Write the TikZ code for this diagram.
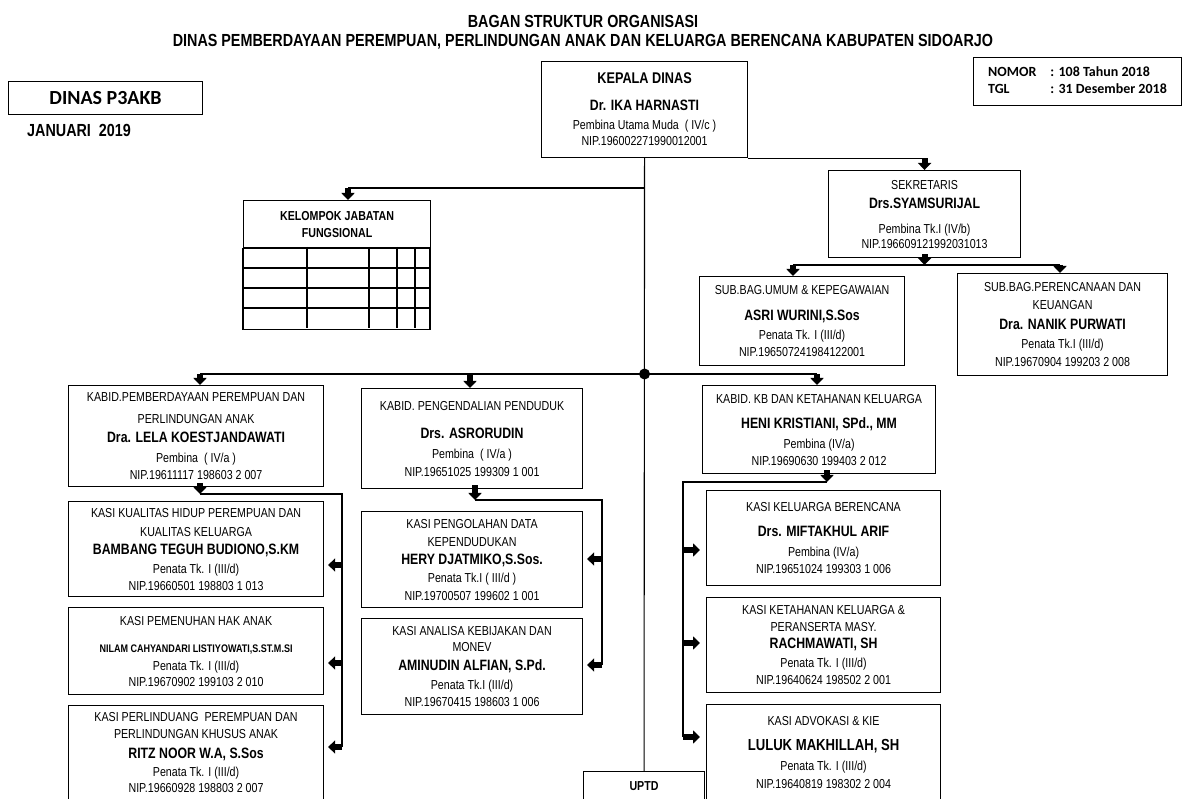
\documentclass[tikz,border=0pt]{standalone}
\usepackage{fontspec}
\setmainfont{Liberation Sans}[FakeStretch=0.82]
\newfontfamily\calfont{Carlito}
\usetikzlibrary{arrows.meta, positioning, calc}

\newcommand{\pname}[1]{{\fontsize{15}{18}\selectfont\bfseries #1}}

\begin{document}
\begin{tikzpicture}[
    x=1pt, y=-1pt,
    node distance=10pt,
    orgbox/.style={draw, line width=1.1pt, anchor=north west, align=center, inner sep=0pt, font=\fontsize{13}{18}\selectfont},
    link/.style={line width=1.1pt},
    fatarrow/.style={line width=6pt, -{Triangle[width=13pt, length=7pt]}},
    heading/.style={font=\fontsize{17.5}{20}\selectfont\bfseries, inner sep=0pt}
]
\useasboundingbox (0,0) rectangle (1184,799);
\fill[white] (0,0) rectangle (1184,799);

% Judul
\node[heading] (judul) at (583,21) {BAGAN STRUKTUR ORGANISASI};
\node[heading] (judul2) at (583,42) {DINAS PEMBERDAYAAN PEREMPUAN, PERLINDUNGAN ANAK DAN KELUARGA BERENCANA KABUPATEN SIDOARJO};

\node[orgbox, minimum width=194pt, minimum height=33pt, font=\calfont\bfseries\fontsize{20}{24}\selectfont] (dinas) at (8,81) {DINAS P3AKB};
\node[anchor=west, inner sep=0pt, font=\bfseries\fontsize{17.5}{20}\selectfont] (bulan) at (27,130) {JANUARI~~2019};

\node[orgbox, minimum width=208pt, minimum height=48pt, font=\calfont\bfseries\fontsize{14}{17}\selectfont] (nomor) at (973,57)
  {\begin{tabular}{@{}l@{\hspace{14pt}}l@{}}NOMOR & : 108 Tahun 2018\\ TGL & : 31 Desember 2018\end{tabular}};

% Pimpinan
\node[orgbox, minimum width=206pt, minimum height=96pt] (kepala) at (541,61)
  {{\bfseries\fontsize{15.5}{18}\selectfont KEPALA DINAS}\\[9pt]
   \pname{Dr. IKA HARNASTI}\\[1pt]
   Pembina Utama Muda~~( IV/c )\\[-2pt]
   NIP.196002271990012001};

\node[orgbox, minimum width=192pt, minimum height=87pt] (sek) at (828,170)
  {SEKRETARIS\\[1pt]
   \pname{Drs.SYAMSURIJAL}\\[7pt]
   Pembina Tk.I (IV/b)\\[-3pt]
   NIP.196609121992031013};

\node[orgbox, minimum width=205pt, minimum height=89pt] (umum) at (699,276)
  {SUB.BAG.UMUM \& KEPEGAWAIAN\\[8pt]
   \pname{ASRI WURINI,S.Sos}\\[1pt]
   Penata Tk. I (III/d)\\[-1pt]
   NIP.196507241984122001};

\node[orgbox, minimum width=210pt, minimum height=102pt] (peren) at (957,273)
  {SUB.BAG.PERENCANAAN DAN\\
   KEUANGAN\\[2pt]
   \pname{Dra. NANIK PURWATI}\\[1pt]
   Penata Tk.I (III/d)\\
   NIP.19670904 199203 2 008};

\node[orgbox, minimum width=187pt, minimum height=47pt, font=\bfseries\fontsize{13}{17}\selectfont] (kelompok) at (243,200)
  {KELOMPOK JABATAN\\FUNGSIONAL};
\draw[link] (kelompok.south west) rectangle ++(187,81);
\foreach \gx in {307,369,397,415} \draw[link] (\gx,247) -- (\gx,328);
\foreach \gy in {268,288,308} \draw[link] (243,\gy) -- (430,\gy);

% Bidang kiri
\node[orgbox, minimum width=255pt, minimum height=101pt] (kabidpp) at (68,385)
  {KABID.PEMBERDAYAAN PEREMPUAN DAN\\[4pt]
   PERLINDUNGAN ANAK\\[1pt]
   \pname{Dra. LELA KOESTJANDAWATI}\\[2pt]
   Pembina~~( IV/a )\\[-1pt]
   NIP.19611117 198603 2 007};
\node[orgbox, minimum width=255pt, minimum height=95pt] (kasikh) at (68,501)
  {KASI KUALITAS HIDUP PEREMPUAN DAN\\[1pt]
   KUALITAS KELUARGA\\
   \pname{BAMBANG TEGUH BUDIONO,S.KM}\\[1pt]
   Penata Tk. I (III/d)\\[-1pt]
   NIP.19660501 198803 1 013};
\node[orgbox, below=of kasikh.south west, anchor=north west, minimum width=255pt, minimum height=87pt] (kasiph)
  {KASI PEMENUHAN HAK ANAK\\[9pt]
   {\bfseries\fontsize{11}{18}\selectfont NILAM CAHYANDARI LISTIYOWATI,S.ST.M.SI}\\
   Penata Tk. I (III/d)\\[-2pt]
   NIP.19670902 199103 2 010};
\node[orgbox, below=of kasiph.south west, anchor=north west, minimum width=255pt, minimum height=94pt] (kasipp)
  {KASI PERLINDUANG~~PEREMPUAN DAN\\[-1pt]
   PERLINDUNGAN KHUSUS ANAK\\[2pt]
   \pname{RITZ NOOR W.A, S.Sos}\\
   Penata Tk. I (III/d)\\[-2pt]
   NIP.19660928 198803 2 007};

% Bidang tengah
\node[orgbox, minimum width=221pt, minimum height=100pt] (kabidpeng) at (361,388)
  {KABID. PENGENDALIAN PENDUDUK\\[10pt]
   \pname{Drs. ASRORUDIN}\\[2pt]
   Pembina~~( IV/a )\\
   NIP.19651025 199309 1 001};
\node[orgbox, minimum width=221pt, minimum height=96pt] (kasipd) at (361,511)
  {KASI PENGOLAHAN DATA\\
   KEPENDUDUKAN\\
   \pname{HERY DJATMIKO,S.Sos.}\\
   Penata Tk.I ( III/d )\\
   NIP.19700507 199602 1 001};
\node[orgbox, below=of kasipd.south west, anchor=north west, minimum width=221pt, minimum height=96pt] (kasiak)
  {KASI ANALISA KEBIJAKAN DAN\\[-2pt]
   MONEV\\[1pt]
   \pname{AMINUDIN ALFIAN, S.Pd.}\\[1pt]
   Penata Tk.I (III/d)\\[-1pt]
   NIP.19670415 198603 1 006};

% Bidang kanan
\node[orgbox, minimum width=233pt, minimum height=88pt] (kabidkb) at (702,385)
  {KABID. KB DAN KETAHANAN KELUARGA\\[7pt]
   \pname{HENI KRISTIANI, SPd., MM}\\[2pt]
   Pembina (IV/a)\\[-1pt]
   NIP.19690630 199403 2 012};
\node[orgbox, minimum width=234pt, minimum height=95pt] (kasikb) at (706,490)
  {KASI KELUARGA BERENCANA\\[7pt]
   \pname{Drs. MIFTAKHUL ARIF}\\[2pt]
   Pembina (IV/a)\\[-1pt]
   NIP.19651024 199303 1 006};
\node[orgbox, below=11pt of kasikb.south west, anchor=north west, minimum width=234pt, minimum height=95pt] (kasikk)
  {KASI KETAHANAN KELUARGA \&\\[-1pt]
   PERANSERTA MASY.\\[-1pt]
   \pname{RACHMAWATI, SH}\\[1pt]
   Penata Tk. I (III/d)\\[-1pt]
   NIP.19640624 198502 2 001};
\node[orgbox, below=11pt of kasikk.south west, anchor=north west, minimum width=234pt, minimum height=95pt] (kasiad)
  {KASI ADVOKASI \& KIE\\[7pt]
   {\fontsize{16}{18}\selectfont\bfseries LULUK MAKHILLAH, SH}\\[2pt]
   Penata Tk. I (III/d)\\
   NIP.19640819 198302 2 004};

\node[orgbox, minimum width=121pt, minimum height=40pt, text height=10pt, text depth=13pt, font=\bfseries\fontsize{13}{16}\selectfont] (uptd) at (583,771) {UPTD};

% Garis komando
\draw[link] (kepala.south) -- (uptd.north);
\node[circle, fill, minimum size=11pt, inner sep=0pt] (hub) at (kepala.south |- 0,374) {};

\coordinate (jsek) at (kepala.south east -| sek.north);
\draw[link] (kepala.south east) -- (jsek);
\draw[fatarrow] (jsek) -- (sek.north);

\coordinate (jkel) at (348,188);
\draw[link] (kepala.south |- jkel) -- (jkel);
\draw[fatarrow] (jkel) -- (jkel |- kelompok.north);

\coordinate (jumum) at (793,265);
\coordinate (jperen) at (1060,265);
\draw[fatarrow, shorten <=-4pt] (sek.south) -- (sek.south |- jumum);
\draw[link] (jumum) -- (jperen);
\draw[fatarrow] (jumum) -- (jumum |- umum.north);
\draw[fatarrow] (jperen) -- (jperen |- peren.north);

\coordinate (jpp) at (200,374);
\coordinate (jpeng) at (470,374);
\coordinate (jkb) at (817,374);
\draw[link] (jpp) -- (jkb);
\draw[fatarrow] (jpp) -- (jpp |- kabidpp.north);
\draw[fatarrow] (jpeng) -- (jpeng |- kabidpeng.north);
\draw[fatarrow] (jkb) -- (jkb |- kabidkb.north);

% Seksi tiap bidang
\coordinate (bpp) at (200,494);
\coordinate (bppr) at (342,494);
\draw[fatarrow, shorten <=-4pt] (bpp |- kabidpp.south) -- (bpp);
\draw[link] (bpp) -- (bppr) -- (bppr |- 0,747);
\foreach \n/\ya in {kasikh/565, kasiph/663, kasipp/747}
  \draw[fatarrow, shorten >=4pt] (bppr |- 0,\ya) -- (\n.east |- 0,\ya);

\coordinate (bpeng) at (475,500);
\coordinate (bpengr) at (602,500);
\draw[fatarrow, shorten <=-4pt] (bpeng |- kabidpeng.south) -- (bpeng);
\draw[link] (bpeng) -- (bpengr) -- (bpengr |- 0,665);
\foreach \n/\ya in {kasipd/559, kasiak/665}
  \draw[fatarrow, shorten >=4pt] (bpengr |- 0,\ya) -- (\n.east |- 0,\ya);

\coordinate (bkb) at (827,482);
\coordinate (bkbl) at (683,482);
\draw[fatarrow, shorten <=-4pt] (bkb |- kabidkb.south) -- (bkb);
\draw[link] (bkb) -- (bkbl) -- (bkbl |- 0,737);
\foreach \n/\ya in {kasikb/550, kasikk/643, kasiad/737}
  \draw[fatarrow, shorten >=6pt] (bkbl |- 0,\ya) -- (\n.west |- 0,\ya);
\end{tikzpicture}
\end{document}
